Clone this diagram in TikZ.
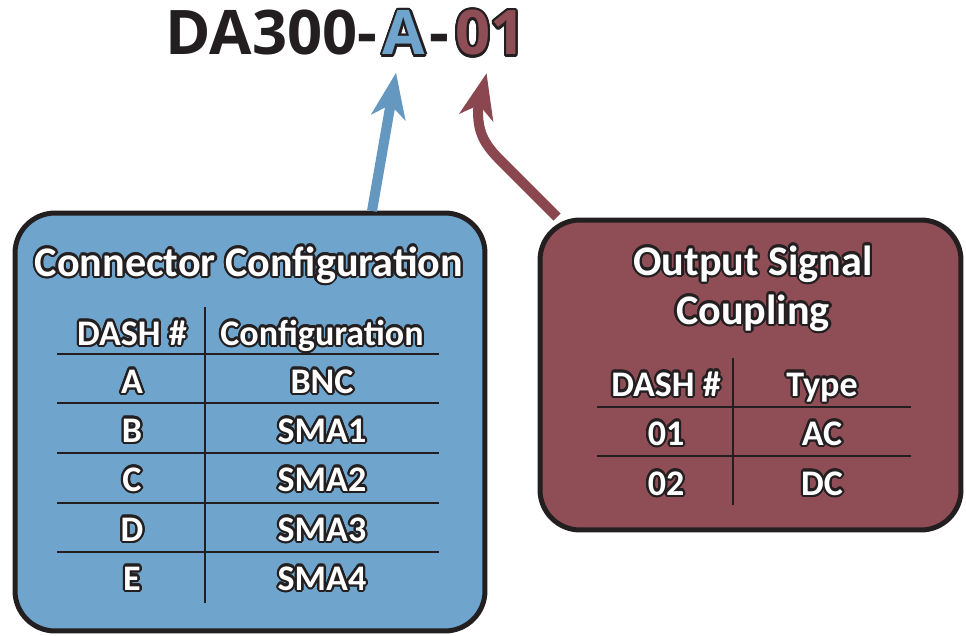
\documentclass[tikz,border=0pt]{standalone}
\usepackage{fontspec}
\setmainfont{Carlito}
\newfontfamily\headfont{Open Sans}
\usepackage{contour}
\contourlength{1.3pt}
\usetikzlibrary{arrows.meta}
\definecolor{ink}{HTML}{231F20}
\definecolor{conblue}{HTML}{6FA4CC}
\definecolor{arrblue}{HTML}{6598C0}
\definecolor{outred}{HTML}{8F4E56}
\definecolor{arrred}{HTML}{8A4750}
\tikzset{
  panel/.style={draw=ink, line width=0.1cm, rounded corners=0.8cm},
  celltext/.style={anchor=base, inner sep=0pt, text=white,
    font=\bfseries\fontsize{20.5}{22}\selectfont},
  paneltitle/.style={anchor=base, inner sep=0pt, text=white,
    font=\bfseries\fontsize{24}{26}\selectfont},
  modelfont/.style={anchor=base west, inner sep=0pt, text=ink,
    font=\headfont\bfseries\fontsize{35}{38}\selectfont},
  rule/.style={ink, line width=0.05cm},
  pointer/.style={line width=0.2cm,
    -{Stealth[length=0.9cm, width=0.68cm, inset=0.25cm]}},
}
\newcommand*{\DashColumn}[3]{% #1 = list of y/cell, #2 = x, #3 = name prefix
\foreach \y/\cell in {#1} {
\node [celltext] (#3-\y)
at (#2,\y) {\contour{ink}{\cell}};
}%
}

\begin{document}
\begin{tikzpicture}[x=0.02cm, y=-0.02cm]
\useasboundingbox (0,0) rectangle (966,635);

            % part number
            \node [modelfont] (model) at (165,55) {DA300-};
            \node [modelfont] (dashA) at ([xshift=0.1cm]model.base east) {\contour{ink}{\textcolor{conblue}{A}}};
            \node [modelfont] (sep) at ([xshift=0.08cm]dashA.base east) {-};
            \node [modelfont] (dash01) at ([xshift=0.1cm]sep.base east) {\contour{ink}{\textcolor{outred}{01}}};

            % panels
            \node [panel, fill=conblue, minimum width=9.4cm, minimum height=8.36cm] (conbox) at (250,422) {};
            \node [panel, fill=outred, minimum width=8.42cm, minimum height=6.2cm] (outbox) at (750.5,375) {};

            % pointers
            \coordinate (bluefoot) at (372,211);
            \coordinate (redfoot) at (557,217);
            \draw [pointer, arrblue] (bluefoot) -- ([xshift=-0.16cm, yshift=-0.3cm]dashA.south);
            \draw [pointer, arrred] (redfoot) -- (500,160)
                .. controls (482,142) and (478,130) .. (478,110)
                -- ([xshift=-0.08cm, yshift=-0.3cm]dash01.south);

            % connector table
            \node [paneltitle] (contitle) at (249,276) {\contour{ink}{Connector Configuration}};
            \DashColumn{345/{DASH \#},393/A,442/B,491/C,541/D,590/E}{132}{dl}
            \DashColumn{345/Configuration,393/BNC,442/SMA1,491/SMA2,541/SMA3,590/SMA4}{322}{cfg}
            \foreach \y in {354,403,453,503,552} \draw [rule] (57,\y) -- (439,\y);
            \draw [rule] (205,307) -- (205,603);

            % coupling table
            \node [paneltitle] (outtitle) at (753,275) {\contour{ink}{Output Signal}};
            \node [paneltitle] (outtitle2) at (753,324) {\contour{ink}{Coupling}};
            \DashColumn{396/{DASH \#},445/01,495/02}{666}{ol}
            \DashColumn{396/Type,445/AC,495/DC}{822}{typ}
            \foreach \y in {407,456} \draw [rule] (597,\y) -- (911,\y);
            \draw [rule] (733,358) -- (733,505);

        \end{tikzpicture}
\end{document}
